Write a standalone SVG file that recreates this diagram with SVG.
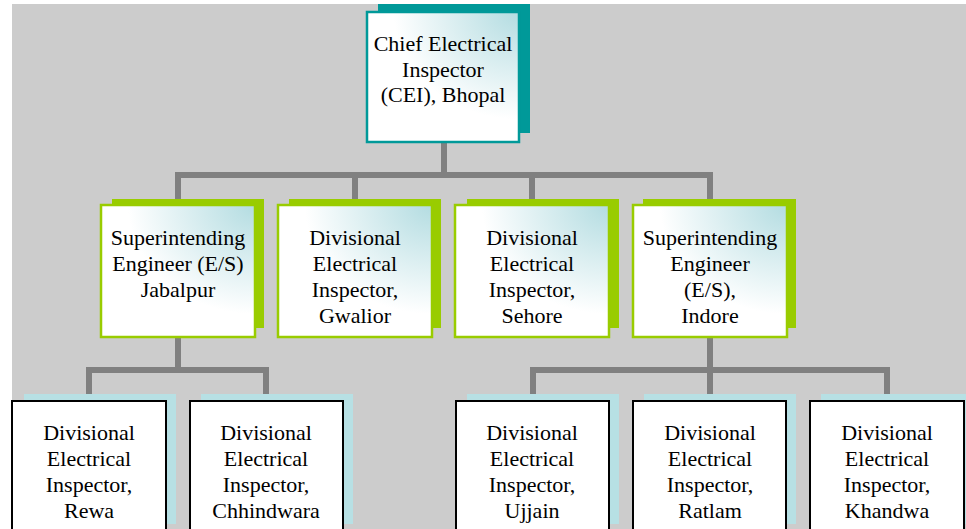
<svg xmlns="http://www.w3.org/2000/svg" width="966" height="529" viewBox="0 0 966 529">
<defs>
<radialGradient id="g" cx="1" cy="0" r="1.1" fx="1" fy="0">
<stop offset="0" stop-color="#b3dce1"/>
<stop offset="0.75" stop-color="#ffffff"/>
<stop offset="1" stop-color="#ffffff"/>
</radialGradient>
<style>
.t{font-family:'Liberation Serif','Times New Roman',serif;font-size:22px;fill:#000;text-anchor:middle}
.c{stroke:#808080;stroke-width:6;fill:none}
.sh1{fill:#009999}
.sh2{fill:#99cc00}
.sh3{fill:#b7e0e4}
.f1{fill:url(#g);stroke:#009999;stroke-width:2.5}
.f2{fill:url(#g);stroke:#99cc00;stroke-width:2.5}
.f3{fill:#ffffff;stroke:#000000;stroke-width:2}
</style>
</defs>
<rect x="12" y="4" width="954" height="525" fill="#cccccc"/>
<g id="connectors">
<path class="c" d="M444 142V175M178 175H710M178 172V205M355 175V205M532 175V205M710 172V205"/>
<path class="c" d="M178 337V370M89 370H266M89 367V394M266 367V394"/>
<path class="c" d="M710 337V394M533 370H887M533 367V394M887 367V394"/>
</g>
<g id="cei">
<rect class="sh1" x="378" y="4" width="152" height="129"/>
<rect class="f1" x="367" y="12" width="152" height="130"/>
<text class="t" x="443" y="51">Chief Electrical</text>
<text class="t" x="443" y="77">Inspector</text>
<text class="t" x="443" y="102">(CEI), Bhopal</text>
</g>
<g id="se-jabalpur">
<rect class="sh2" x="112" y="199" width="152" height="129"/>
<rect class="f2" x="101" y="205" width="154" height="132"/>
<text class="t" x="178" y="245">Superintending</text>
<text class="t" x="178" y="271">Engineer (E/S)</text>
<text class="t" x="178" y="297">Jabalpur</text>
</g>
<g id="dei-gwalior">
<rect class="sh2" x="289" y="199" width="152" height="129"/>
<rect class="f2" x="278" y="205" width="154" height="132"/>
<text class="t" x="355" y="245">Divisional</text>
<text class="t" x="355" y="271">Electrical</text>
<text class="t" x="355" y="297">Inspector,</text>
<text class="t" x="355" y="323">Gwalior</text>
</g>
<g id="dei-sehore">
<rect class="sh2" x="467" y="199" width="152" height="129"/>
<rect class="f2" x="455" y="205" width="154" height="132"/>
<text class="t" x="532" y="245">Divisional</text>
<text class="t" x="532" y="271">Electrical</text>
<text class="t" x="532" y="297">Inspector,</text>
<text class="t" x="532" y="323">Sehore</text>
</g>
<g id="se-indore">
<rect class="sh2" x="643" y="199" width="153" height="129"/>
<rect class="f2" x="633" y="205" width="154" height="132"/>
<text class="t" x="710" y="245">Superintending</text>
<text class="t" x="710" y="271">Engineer</text>
<text class="t" x="710" y="297">(E/S),</text>
<text class="t" x="710" y="323">Indore</text>
</g>
<g id="dei-rewa">
<rect class="sh3" x="24" y="394" width="152" height="130"/>
<rect class="f3" x="12" y="401" width="154" height="132"/>
<text class="t" x="89" y="440">Divisional</text>
<text class="t" x="89" y="466">Electrical</text>
<text class="t" x="89" y="492">Inspector,</text>
<text class="t" x="89" y="518">Rewa</text>
</g>
<g id="dei-chhindwara">
<rect class="sh3" x="201" y="394" width="152" height="130"/>
<rect class="f3" x="190" y="401" width="153" height="132"/>
<text class="t" x="266" y="440">Divisional</text>
<text class="t" x="266" y="466">Electrical</text>
<text class="t" x="266" y="492">Inspector,</text>
<text class="t" x="266" y="518">Chhindwara</text>
</g>
<g id="dei-ujjain">
<rect class="sh3" x="467" y="394" width="152" height="130"/>
<rect class="f3" x="456" y="401" width="153" height="132"/>
<text class="t" x="532" y="440">Divisional</text>
<text class="t" x="532" y="466">Electrical</text>
<text class="t" x="532" y="492">Inspector,</text>
<text class="t" x="532" y="518">Ujjain</text>
</g>
<g id="dei-ratlam">
<rect class="sh3" x="644" y="394" width="152" height="130"/>
<rect class="f3" x="633" y="401" width="153" height="132"/>
<text class="t" x="710" y="440">Divisional</text>
<text class="t" x="710" y="466">Electrical</text>
<text class="t" x="710" y="492">Inspector,</text>
<text class="t" x="710" y="518">Ratlam</text>
</g>
<g id="dei-khandwa">
<rect class="sh3" x="821" y="394" width="152" height="130"/>
<rect class="f3" x="810" y="401" width="154" height="132"/>
<text class="t" x="887" y="440">Divisional</text>
<text class="t" x="887" y="466">Electrical</text>
<text class="t" x="887" y="492">Inspector,</text>
<text class="t" x="887" y="518">Khandwa</text>
</g>
</svg>
